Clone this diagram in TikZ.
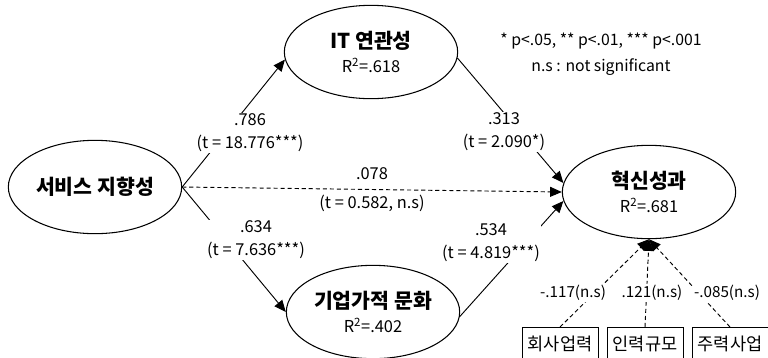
\documentclass[tikz,border=0pt]{standalone}
\usepackage{fontspec}
\setmainfont{Noto Sans CJK KR}
\usetikzlibrary{shapes.geometric,arrows.meta}

\tikzset{
  latent/.style={draw, ellipse, line width=0.9pt, minimum width=5.2cm, minimum height=2.8cm,
    inner sep=0pt, align=center, font=\fontsize{14}{21}\selectfont},
  ctrl/.style={draw, line width=0.8pt, anchor=north, minimum width=2.28cm, minimum height=0.98cm,
    inner sep=0pt, font=\fontsize{15}{16}\selectfont},
  coef/.style={fill=white, inner sep=1pt, align=center, font=\fontsize{14}{19.5}\selectfont},
  eff/.style={line width=0.8pt, -{Triangle[length=10pt,width=8.5pt]}},
  nseff/.style={eff, dash pattern=on 3.5pt off 2.5pt},
}
\newcommand{\ttl}[1]{{\fontsize{17.5}{21}\selectfont\bfseries #1}}

\begin{document}
\begin{tikzpicture}[x=0.03cm, y=-0.03cm]
  \useasboundingbox (0,0) rectangle (768,357);

  % latent variables
  \node[latent] (svc) at (95,187) {\ttl{서비스 지향성}};
  \node[latent] (it) at (371,52) {\ttl{IT 연관성}\\R\textsuperscript{2}=.618};
  \node[latent] (cult) at (373,312) {\ttl{기업가적 문화}\\R\textsuperscript{2}=.402};
  \node[latent] (inno) at (649,192) {\ttl{혁신성과}\\R\textsuperscript{2}=.681};

  % control variables
  \node[ctrl] (age) at (560,327) {회사업력};
  \node[ctrl] (size) at (645,327) {인력규모};
  \node[ctrl] (biz) at (730,327) {주력사업};

  % paths
  \draw[eff] (svc.east) -- (it.185);
  \draw[eff] (svc.east) -- (cult.west);
  \draw[eff] (it.356) -- (inno.174);
  \draw[eff] (cult.357) -- (inno.186);
  \draw[nseff] (svc.east) -- (inno.west)
    node[midway, coef, fill=none, inner sep=0pt, font=\fontsize{14}{25}\selectfont] (l5) {.078\\(t = 0.582, n.s)};
  \draw[nseff] (age.north) -- (inno.south);
  \draw[nseff] (size.north) -- (inno.south);
  \draw[nseff] (biz.north) -- (inno.south);

  % coefficients
  \node[coef] (l1) at (250,133) {.786\\(t = 18.776***)};
  \node[coef] (l2) at (256,240) {.634\\(t = 7.636***)};
  \node[coef] (l3) at (504,132) {.313\\(t = 2.090*)};
  \node[coef] (l4) at (491,243) {.534\\(t = 4.819***)};
  \node[coef, font=\fontsize{13}{16}\selectfont] (c1) at (573,293) {-.117(n.s)};
  \node[coef, font=\fontsize{13}{16}\selectfont] (c2) at (652,293) {.121(n.s)};
  \node[coef, font=\fontsize{13}{16}\selectfont] (c3) at (727,293) {-.085(n.s)};

  % legend
  \node[align=center, font=\fontsize{13.5}{22}\selectfont] (note) at (601,54)
    {* p<.05, ** p<.01, *** p<.001\\n.s : not significant};
\end{tikzpicture}
\end{document}
